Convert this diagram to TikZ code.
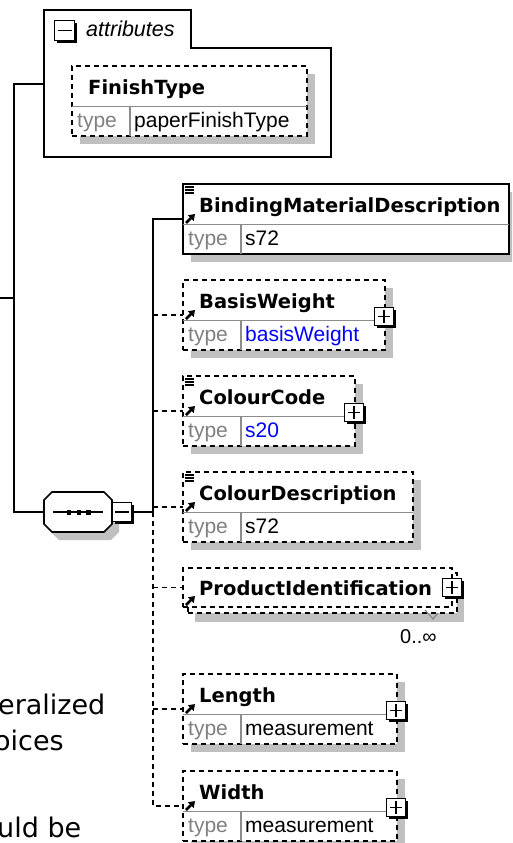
\documentclass[tikz,border=0pt]{standalone}
\usepackage{fontspec}
\setmainfont{Liberation Sans}
\newfontfamily\dvs{DejaVu Sans}
\usetikzlibrary{shadows,arrows.meta}
\definecolor{shd}{HTML}{C0C0C0}
\definecolor{typegray}{HTML}{808080}
\definecolor{divgray}{HTML}{8C8C8C}
\definecolor{xblue}{HTML}{0000FF}
\tikzset{
  conn/.style={line width=1.6pt, draw=black},
  dconn/.style={conn, dash pattern=on 5pt off 4pt},
  eshadow/.style={drop shadow={shadow xshift=8pt, shadow yshift=-8pt, fill=shd, opacity=1}},
  ebox/.style={draw=black, fill=white, line width=1.6pt, inner sep=0pt, outer sep=0pt, minimum height=70pt, eshadow, anchor=north west},
  optbox/.style={dash pattern=on 5pt off 4pt},
  divline/.style={draw=divgray, line width=1.3pt},
  nametxt/.style={font=\dvs\bfseries\fontsize{19.5}{22}\selectfont, anchor=base west, inner sep=0pt},
  typetxt/.style={font=\fontsize{21}{24}\selectfont, text=typegray, anchor=base west, inner sep=0pt},
  valtxt/.style={font=\fontsize{21}{24}\selectfont, anchor=base west, inner sep=0pt},
  slidetxt/.style={font=\dvs\fontsize{27}{32}\selectfont, anchor=base west, inner sep=0pt},
  pmbox/.style={draw=black, fill=white, line width=1.4pt, minimum size=18.5pt, inner sep=0pt, outer sep=0pt, drop shadow={shadow xshift=2.4pt, shadow yshift=-2.4pt, fill=black, opacity=1}},
  minussign/.style={pmbox, path picture={\draw[line width=1.4pt] ([xshift=3pt]path picture bounding box.west) -- ([xshift=-3pt]path picture bounding box.east);}},
  plussign/.style={pmbox, path picture={\draw[line width=1.4pt] ([xshift=3pt]path picture bounding box.west) -- ([xshift=-3pt]path picture bounding box.east) ([yshift=-3pt]path picture bounding box.north) -- ([yshift=3pt]path picture bounding box.south);}},
  elarrow/.style={line width=2.6pt, -{Triangle[length=6pt,width=8pt]}},
  doclines/.style={line width=1.3pt},
}
% #1 name, #2 x, #3 top y, #4 width, #5 box style, #6 label, #7 value, #8 value colour
\newcommand\xelem[8]{%
  \node[ebox,#5,minimum width=#4pt] (#1) at (#2,#3) {};
  \draw[divline] ([yshift=-40.5pt]#1.north west) -- ([yshift=-40.5pt]#1.north east);
  \draw[divline] ([xshift=58pt,yshift=-40.5pt]#1.north west) -- ([xshift=58pt]#1.south west);
  \node[nametxt] (#1-name) at ([xshift=16pt,yshift=-28pt]#1.north west) {#6};
  \node[typetxt] (#1-type) at ([xshift=5pt,yshift=-61pt]#1.north west) {type};
  \node[valtxt,text=#8] (#1-val) at ([xshift=62pt,yshift=-61pt]#1.north west) {#7};
}
\newcommand\elarr[2]{\draw[elarrow] ([xshift=3pt,yshift=-#2pt]#1.north west) -- ++(9pt,9pt);}
\newcommand\docicon[1]{%
  \draw[doclines] ([xshift=2pt,yshift=-3pt]#1.north west) -- ++(9pt,0pt)
    ([xshift=2pt,yshift=-6pt]#1.north west) -- ++(9pt,0pt)
    ([xshift=2pt,yshift=-9pt]#1.north west) -- ++(9pt,0pt);}
\newcommand\plusat[1]{\node[plussign] (#1-plus) at ([xshift=-1pt,yshift=-36.5pt]#1.north east) {};}

\begin{document}
\begin{tikzpicture}[x=1pt,y=-1pt]
\useasboundingbox (0,0) rectangle (512,843);
\clip (0,0) rectangle (512,843);

% ---------- connector coordinates ----------
\coordinate (pin) at (0,298);
\coordinate (pj) at (14,298);
\coordinate (ptop) at (14,84);
\coordinate (pbot) at (14,512);
\coordinate (attrL) at (44,84);
\coordinate (seqL) at (44,512);
\coordinate (sj) at (153,512);

% ---------- attributes group ----------
\draw[conn, fill=white] (44,10) -- (191,10) -- (191,48) -- (331,48) -- (331,157) -- (44,157) -- cycle;
\node[minussign, minimum size=20pt] (attrm) at (64.5,30.5) {};
\node[font=\itshape\fontsize{21.5}{24}\selectfont, anchor=base west, inner sep=0pt] (attrlbl) at (86,37) {attributes};
\xelem{finish}{72}{66}{235}{optbox}{FinishType}{paperFinishType}{black}

% ---------- sequence compositor ----------
\fill[shd, shift={(7,8)}] (44,500) -- (52,492) -- (104,492) -- (112,500) -- (112,524) -- (104,532) -- (52,532) -- (44,524) -- cycle;
\draw[conn, fill=white] (44,500) -- (52,492) -- (104,492) -- (112,500) -- (112,524) -- (104,532) -- (52,532) -- (44,524) -- cycle;
\draw[line width=1.5pt] (53,512) -- (103,512);
\fill (66.5,510) rectangle (71,514.5);
\fill (76.5,510) rectangle (81,514.5);
\fill (86,510) rectangle (90.5,514.5);
\node[minussign, minimum size=19.5pt] (seqm) at (122,512) {};

% ---------- connectors ----------
\draw[conn] (attrL) -- (ptop) -- (pbot) -- (seqL);
\draw[conn] (pin) -- (pj);

% ---------- elements ----------
\xelem{bind}{183}{184}{326}{}{BindingMaterialDescription}{s72}{black}
\xelem{basis}{183}{280}{202}{optbox}{BasisWeight}{basisWeight}{xblue}
\xelem{ccode}{183}{376}{172}{optbox}{ColourCode}{s20}{xblue}
\xelem{cdesc}{183}{472}{230}{optbox}{ColourDescription}{s72}{black}
\xelem{length}{183}{674}{214}{optbox}{Length}{measurement}{black}
\xelem{width}{183}{771}{214}{optbox}{Width}{measurement}{black}

% ProductIdentification (repeated element)
\node[draw=black, fill=white, line width=1.6pt, optbox, inner sep=0pt, outer sep=0pt, anchor=north west,
      minimum width=269pt, minimum height=40pt,
      drop shadow={shadow xshift=7pt, shadow yshift=-9pt, fill=shd, opacity=1}] (prodback) at (188,573) {};
\node[draw=black, fill=white, line width=1.6pt, optbox, inner sep=0pt, outer sep=0pt, anchor=north west,
      minimum width=269pt, minimum height=39pt] (prod) at (183,568) {};
\node[nametxt] (prod-name) at ([xshift=16pt,yshift=-27pt]prod.north west) {ProductIdentification};
\node[plussign] (prod-plus) at (prod.east) {};
\draw[draw=typegray, line width=1pt] (425,610) -- (433,619) -- (438,613);
\node[valtxt, font=\fontsize{20}{24}\selectfont] (prod-occ) at (400,643) {0..∞};

% connectors to elements
\draw[conn] (seqm.east) -- (sj) |- (bind.west);
\draw[dconn] (basis.west -| sj) -- (basis.west);
\draw[dconn] (ccode.west -| sj) -- (ccode.west);
\draw[dconn] (cdesc.west -| sj) -- (cdesc.west);
\draw[dconn] (prod.west -| sj) -- (prod.west);
\draw[dconn] (length.west -| sj) -- (length.west);
\draw[dconn] (sj) |- (width.west);

% icons
\elarr{bind}{39}
\elarr{basis}{39}
\elarr{ccode}{39}
\elarr{cdesc}{39}
\elarr{length}{39}
\elarr{width}{39}
\elarr{prod}{37}
\docicon{bind}
\docicon{ccode}
\docicon{cdesc}
\plusat{basis}
\plusat{ccode}
\plusat{length}
\plusat{width}

% ---------- clipped slide text ----------
\node[slidetxt] (s1) at (-2,714) {eralized};
\node[slidetxt] (s2) at (-6,750) {oices};
\node[slidetxt] (s3) at (-3,837) {uld be};
\end{tikzpicture}
\end{document}
